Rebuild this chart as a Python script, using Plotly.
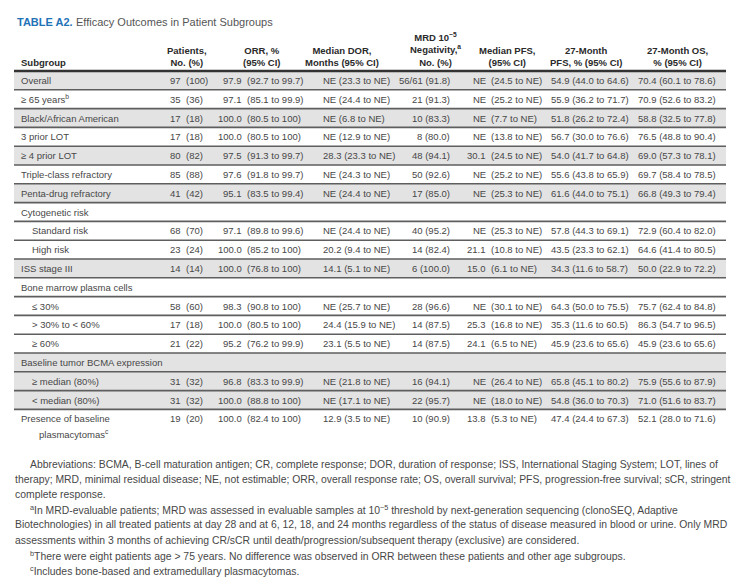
import plotly.graph_objects as go

W, H = 743, 583

# ---------------- data ----------------
title_label = "TABLE A2."
title_text = "Efficacy Outcomes in Patient Subgroups"

headers = [
    ["Subgroup"],
    ["Patients,", "No. (%)"],
    ["ORR, %", "(95% CI)"],
    ["Median DOR,", "Months (95% CI)"],
    ["MRD 10<sup>−5</sup>", "Negativity,<sup>a</sup>", "No. (%)"],
    ["Median PFS,", "(95% CI)"],
    ["27-Month", "PFS, % (95% CI)"],
    ["27-Month OS,", "% (95% CI)"],
]

subgroups = ["Overall", "≥ 65 years<sup>b</sup>", "Black/African American", "3 prior LOT",
             "≥ 4 prior LOT", "Triple-class refractory", "Penta-drug refractory",
             "Cytogenetic risk", "Standard risk", "High risk", "ISS stage III",
             "Bone marrow plasma cells", "≤ 30%", "> 30% to < 60%", "≥ 60%",
             "Baseline tumor BCMA expression", "≥ median (80%)", "< median (80%)",
             "Presence of baseline|plasmacytomas<sup>c</sup>"]
indent = [0, 0, 0, 0, 0, 0, 0, 0, 1, 1, 0, 0, 1, 1, 1, 0, 1, 1, 0]
shaded = [1, 0, 1, 0, 1, 0, 1, 0, 0, 0, 1, 0, 0, 0, 0, 1, 1, 1, 0]

patients = ["97 (100)", "35 (36)", "17 (18)", "17 (18)", "80 (82)", "85 (88)", "41 (42)", "",
            "68 (70)", "23 (24)", "14 (14)", "", "58 (60)", "17 (18)", "21 (22)", "",
            "31 (32)", "31 (32)", "19 (20)"]
orr = ["97.9 (92.7 to 99.7)", "97.1 (85.1 to 99.9)", "100.0 (80.5 to 100)", "100.0 (80.5 to 100)",
       "97.5 (91.3 to 99.7)", "97.6 (91.8 to 99.7)", "95.1 (83.5 to 99.4)", "",
       "97.1 (89.8 to 99.6)", "100.0 (85.2 to 100)", "100.0 (76.8 to 100)", "",
       "98.3 (90.8 to 100)", "100.0 (80.5 to 100)", "95.2 (76.2 to 99.9)", "",
       "96.8 (83.3 to 99.9)", "100.0 (88.8 to 100)", "100.0 (82.4 to 100)"]
dor = ["NE (23.3 to NE)", "NE (24.4 to NE)", "NE (6.8 to NE)", "NE (12.9 to NE)",
       "28.3 (23.3 to NE)", "NE (24.3 to NE)", "NE (24.4 to NE)", "",
       "NE (24.4 to NE)", "20.2 (9.4 to NE)", "14.1 (5.1 to NE)", "",
       "NE (25.7 to NE)", "24.4 (15.9 to NE)", "23.1 (5.5 to NE)", "",
       "NE (21.8 to NE)", "NE (17.1 to NE)", "12.9 (3.5 to NE)"]
mrd = ["56/61 (91.8)", "21 (91.3)", "10 (83.3)", "8 (80.0)", "48 (94.1)", "50 (92.6)", "17 (85.0)", "",
       "40 (95.2)", "14 (82.4)", "6 (100.0)", "", "28 (96.6)", "14 (87.5)", "14 (87.5)", "",
       "16 (94.1)", "22 (95.7)", "10 (90.9)"]
mpfs = ["NE (24.5 to NE)", "NE (25.2 to NE)", "NE (7.7 to NE)", "NE (13.8 to NE)",
        "30.1 (24.5 to NE)", "NE (25.2 to NE)", "NE (25.3 to NE)", "",
        "NE (25.3 to NE)", "21.1 (10.8 to NE)", "15.0 (6.1 to NE)", "",
        "NE (30.1 to NE)", "25.3 (16.8 to NE)", "24.1 (6.5 to NE)", "",
        "NE (26.4 to NE)", "NE (18.0 to NE)", "13.8 (5.3 to NE)"]
pfs27 = ["54.9 (44.0 to 64.6)", "55.9 (36.2 to 71.7)", "51.8 (26.2 to 72.4)", "56.7 (30.0 to 76.6)",
         "54.0 (41.7 to 64.8)", "55.6 (43.8 to 65.9)", "61.6 (44.0 to 75.1)", "",
         "57.8 (44.3 to 69.1)", "43.5 (23.3 to 62.1)", "34.3 (11.6 to 58.7)", "",
         "64.3 (50.0 to 75.5)", "35.3 (11.6 to 60.5)", "45.9 (23.6 to 65.6)", "",
         "65.8 (45.1 to 80.2)", "54.8 (36.0 to 70.3)", "47.4 (24.4 to 67.3)"]
os27 = ["70.4 (60.1 to 78.6)", "70.9 (52.6 to 83.2)", "58.8 (32.5 to 77.8)", "76.5 (48.8 to 90.4)",
        "69.0 (57.3 to 78.1)", "69.7 (58.4 to 78.5)", "66.8 (49.3 to 79.4)", "",
        "72.9 (60.4 to 82.0)", "64.6 (41.4 to 80.5)", "50.0 (22.9 to 72.2)", "",
        "75.7 (62.4 to 84.8)", "86.3 (54.7 to 96.5)", "45.9 (23.6 to 65.6)", "",
        "75.9 (55.6 to 87.9)", "71.0 (51.6 to 83.7)", "52.1 (28.0 to 71.6)"]

footnotes = [
    (1, "Abbreviations: BCMA, B-cell maturation antigen; CR, complete response; DOR, duration of response; ISS, International Staging System; LOT, lines of"),
    (0, "therapy; MRD, minimal residual disease; NE, not estimable; ORR, overall response rate; OS, overall survival; PFS, progression-free survival; sCR, stringent"),
    (0, "complete response."),
    (1, "<sup>a</sup>In MRD-evaluable patients; MRD was assessed in evaluable samples at 10<sup>−5</sup> threshold by next-generation sequencing (clonoSEQ, Adaptive"),
    (0, "Biotechnologies) in all treated patients at day 28 and at 6, 12, 18, and 24 months regardless of the status of disease measured in blood or urine. Only MRD"),
    (0, "assessments within 3 months of achieving CR/sCR until death/progression/subsequent therapy (exclusive) are considered."),
    (1, "<sup>b</sup>There were eight patients age > 75 years. No difference was observed in ORR between these patients and other age subgroups."),
    (1, "<sup>c</sup>Includes bone-based and extramedullary plasmacytomas."),
]

# ---------------- style / layout ----------------
FONT = "Liberation Sans, Arial, sans-serif"
BODY = "#474747"
HEAD = "#2a2a2a"
BLUE = "#1f73b7"
SHADE = "#e3e3e3"
FS = 9.5

X0, X1 = 14, 726
HEAD_LINE = 71
ROW_H = 18.8
n = len(subgroups)
bounds = [HEAD_LINE + i * ROW_H for i in range(n)] + [HEAD_LINE + (n - 1) * ROW_H + 36]

cols = [
    (patients, "paren", 185),
    (orr, "paren", 246),
    (dor, "left", 322),
    (mrd, "right", 451),
    (mpfs, "paren", 490),
    (pfs27, "left", 550),
    (os27, "left", 637),
]
head_x = [(20, "left"), (187, "center"), (261, "center"), (342, "center"), (435, "center"),
          (507, "center"), (586, "center"), (677, "center")]

fig = go.Figure()
fig.add_trace(go.Scatter(x=[0, W], y=[0, H], mode="markers", marker=dict(opacity=0), hoverinfo="skip"))

shapes = []
ann = []


def txt(x, y, s, anchor="left", color=BODY, size=FS, weight="normal", yanchor="middle", align="left"):
    ann.append(dict(x=x, y=y, xref="x", yref="y", text=s, showarrow=False, xanchor=anchor,
                    yanchor=yanchor, borderpad=0, align=align,
                    font=dict(family=FONT, size=size, color=color, weight=weight)))


# title
txt(16, 22, title_label, color=BLUE, size=11, weight="bold")
txt(75, 22, title_text, color="#555555", size=11)

# headers (multi-line, bottom aligned)
for (hx, anc), lines in zip(head_x, headers):
    txt(hx, 69, "<br>".join(lines), anchor=anc, color=HEAD, size=9.5, weight="bold",
        yanchor="bottom", align="center" if anc == "center" else "left")

# shading + lines
for i in range(n):
    top, bot = bounds[i], bounds[i + 1]
    if shaded[i]:
        shapes.append(dict(type="rect", x0=X0, x1=X1, y0=top, y1=bot, xref="x", yref="y",
                           fillcolor=SHADE, line=dict(width=0), layer="below"))
for i in range(1, n):
    shapes.append(dict(type="line", x0=X0, x1=X1, y0=bounds[i], y1=bounds[i], xref="x", yref="y",
                       line=dict(color="#5e5e5e", width=1.6)))
shapes.append(dict(type="line", x0=X0, x1=X1, y0=HEAD_LINE, y1=HEAD_LINE, xref="x", yref="y",
                   line=dict(color="#333333", width=2.4)))

# body
for i in range(n):
    yc = bounds[i] + ROW_H / 2
    lines = subgroups[i].split("|")
    txt(20 + 11 * indent[i], yc, lines[0])
    for k, extra in enumerate(lines[1:]):
        txt(38, yc + 15 * (k + 1), extra)
    for values, mode, cx in cols:
        v = values[i]
        if not v:
            continue
        if mode == "paren":
            pre, post = v.split(" (", 1)
            txt(cx - 2.6, yc, pre, anchor="right")
            txt(cx, yc, "(" + post, anchor="left")
        else:
            txt(cx, yc, v, anchor=mode)

# footnotes
fy = 464
for ind, s in footnotes:
    txt(29 if ind else 14, fy, s, size=10.4)
    fy += 15.2

fig.update_layout(
    width=W, height=H, margin=dict(l=0, r=0, t=0, b=0),
    paper_bgcolor="white", plot_bgcolor="white", showlegend=False,
    xaxis=dict(range=[0, W], visible=False, fixedrange=True),
    yaxis=dict(range=[H, 0], visible=False, fixedrange=True),
    shapes=shapes, annotations=ann,
)
fig.write_html("out.html", config={"displayModeBar": False},
               post_script="document.body.style.margin='0';document.body.style.overflow='hidden';")
